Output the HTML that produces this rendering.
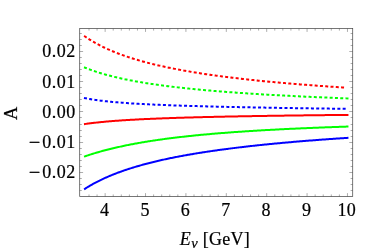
<!DOCTYPE html>
<html><head><meta charset="utf-8"><style>
html,body{margin:0;padding:0;background:#fff;}
body{width:382px;height:251px;position:relative;overflow:hidden;}
svg{font-family:"Liberation Serif",serif;font-size:18px;fill:#000;will-change:transform;}
text{stroke:#000;stroke-width:0.22px;}
</style></head><body>
<svg width="382" height="251" viewBox="0 0 382 251" style="position:absolute;left:0;top:0">
<path d="M84.96,188.79 L85.97,188.15 L86.98,187.52 L87.99,186.91 L89.00,186.30 L90.01,185.71 L91.02,185.13 L92.02,184.55 L93.03,183.99 L94.04,183.44 L95.05,182.90 L96.06,182.36 L97.07,181.84 L98.08,181.32 L99.09,180.82 L100.10,180.32 L101.11,179.83 L102.12,179.35 L103.13,178.87 L104.14,178.40 L105.15,177.94 L106.16,177.49 L107.17,177.05 L108.18,176.61 L109.19,176.18 L110.20,175.75 L111.21,175.33 L112.22,174.92 L113.23,174.51 L114.24,174.11 L115.25,173.72 L116.26,173.33 L117.27,172.94 L118.28,172.56 L119.28,172.19 L120.29,171.82 L121.30,171.46 L122.31,171.10 L123.32,170.75 L124.33,170.40 L125.34,170.05 L126.35,169.71 L127.36,169.38 L128.37,169.05 L129.38,168.72 L130.39,168.40 L131.40,168.08 L132.41,167.76 L133.42,167.45 L134.43,167.15 L135.44,166.84 L136.45,166.54 L137.46,166.25 L138.47,165.95 L139.48,165.67 L140.49,165.38 L141.50,165.10 L142.51,164.82 L143.52,164.54 L144.53,164.27 L145.53,164.00 L146.54,163.73 L147.55,163.47 L148.56,163.21 L149.57,162.95 L150.58,162.69 L151.59,162.44 L152.60,162.19 L153.61,161.94 L154.62,161.70 L155.63,161.46 L156.64,161.22 L157.65,160.98 L158.66,160.74 L159.67,160.51 L160.68,160.28 L161.69,160.06 L162.70,159.83 L163.71,159.61 L164.72,159.39 L165.73,159.17 L166.74,158.95 L167.75,158.74 L168.76,158.52 L169.77,158.31 L170.78,158.10 L171.79,157.90 L172.79,157.69 L173.80,157.49 L174.81,157.29 L175.82,157.09 L176.83,156.89 L177.84,156.70 L178.85,156.51 L179.86,156.31 L180.87,156.12 L181.88,155.94 L182.89,155.75 L183.90,155.56 L184.91,155.38 L185.92,155.20 L186.93,155.02 L187.94,154.84 L188.95,154.66 L189.96,154.49 L190.97,154.31 L191.98,154.14 L192.99,153.97 L194.00,153.80 L195.01,153.63 L196.02,153.46 L197.03,153.30 L198.04,153.13 L199.05,152.97 L200.05,152.81 L201.06,152.65 L202.07,152.49 L203.08,152.33 L204.09,152.18 L205.10,152.02 L206.11,151.87 L207.12,151.71 L208.13,151.56 L209.14,151.41 L210.15,151.26 L211.16,151.12 L212.17,150.97 L213.18,150.82 L214.19,150.68 L215.20,150.53 L216.21,150.39 L217.22,150.25 L218.23,150.11 L219.24,149.97 L220.25,149.83 L221.26,149.69 L222.27,149.56 L223.28,149.42 L224.29,149.29 L225.30,149.15 L226.31,149.02 L227.31,148.89 L228.32,148.76 L229.33,148.63 L230.34,148.50 L231.35,148.37 L232.36,148.25 L233.37,148.12 L234.38,147.99 L235.39,147.87 L236.40,147.75 L237.41,147.62 L238.42,147.50 L239.43,147.38 L240.44,147.26 L241.45,147.14 L242.46,147.02 L243.47,146.91 L244.48,146.79 L245.49,146.67 L246.50,146.56 L247.51,146.44 L248.52,146.33 L249.53,146.21 L250.54,146.10 L251.55,145.99 L252.56,145.88 L253.56,145.77 L254.57,145.66 L255.58,145.55 L256.59,145.44 L257.60,145.33 L258.61,145.23 L259.62,145.12 L260.63,145.02 L261.64,144.91 L262.65,144.81 L263.66,144.70 L264.67,144.60 L265.68,144.50 L266.69,144.40 L267.70,144.30 L268.71,144.19 L269.72,144.09 L270.73,144.00 L271.74,143.90 L272.75,143.80 L273.76,143.70 L274.77,143.60 L275.78,143.51 L276.79,143.41 L277.80,143.32 L278.81,143.22 L279.82,143.13 L280.82,143.03 L281.83,142.94 L282.84,142.85 L283.85,142.76 L284.86,142.67 L285.87,142.58 L286.88,142.48 L287.89,142.40 L288.90,142.31 L289.91,142.22 L290.92,142.13 L291.93,142.04 L292.94,141.95 L293.95,141.87 L294.96,141.78 L295.97,141.69 L296.98,141.61 L297.99,141.52 L299.00,141.44 L300.01,141.36 L301.02,141.27 L302.03,141.19 L303.04,141.11 L304.05,141.02 L305.06,140.94 L306.07,140.86 L307.07,140.78 L308.08,140.70 L309.09,140.62 L310.10,140.54 L311.11,140.46 L312.12,140.38 L313.13,140.30 L314.14,140.23 L315.15,140.15 L316.16,140.07 L317.17,139.99 L318.18,139.92 L319.19,139.84 L320.20,139.77 L321.21,139.69 L322.22,139.62 L323.23,139.54 L324.24,139.47 L325.25,139.39 L326.26,139.32 L327.27,139.25 L328.28,139.18 L329.29,139.10 L330.30,139.03 L331.31,138.96 L332.32,138.89 L333.33,138.82 L334.33,138.75 L335.34,138.68 L336.35,138.61 L337.36,138.54 L338.37,138.47 L339.38,138.40 L340.39,138.33 L341.40,138.27 L342.41,138.20 L343.42,138.13 L344.43,138.06 L345.44,138.00 L346.45,137.93 L347.46,137.86" fill="none" stroke="#0000ff" stroke-width="2" stroke-linejoin="round" stroke-linecap="square"/>
<path d="M84.96,156.34 L85.97,156.00 L86.98,155.66 L87.99,155.33 L89.00,155.00 L90.01,154.67 L91.02,154.35 L92.02,154.04 L93.03,153.72 L94.04,153.41 L95.05,153.11 L96.06,152.81 L97.07,152.51 L98.08,152.22 L99.09,151.93 L100.10,151.64 L101.11,151.36 L102.12,151.08 L103.13,150.81 L104.14,150.54 L105.15,150.27 L106.16,150.01 L107.17,149.75 L108.18,149.49 L109.19,149.23 L110.20,148.98 L111.21,148.73 L112.22,148.49 L113.23,148.25 L114.24,148.01 L115.25,147.77 L116.26,147.54 L117.27,147.31 L118.28,147.08 L119.28,146.85 L120.29,146.63 L121.30,146.41 L122.31,146.19 L123.32,145.98 L124.33,145.77 L125.34,145.56 L126.35,145.35 L127.36,145.14 L128.37,144.94 L129.38,144.74 L130.39,144.54 L131.40,144.35 L132.41,144.16 L133.42,143.97 L134.43,143.78 L135.44,143.59 L136.45,143.41 L137.46,143.22 L138.47,143.04 L139.48,142.86 L140.49,142.69 L141.50,142.51 L142.51,142.34 L143.52,142.17 L144.53,142.00 L145.53,141.84 L146.54,141.67 L147.55,141.51 L148.56,141.35 L149.57,141.19 L150.58,141.03 L151.59,140.87 L152.60,140.72 L153.61,140.57 L154.62,140.41 L155.63,140.26 L156.64,140.12 L157.65,139.97 L158.66,139.82 L159.67,139.68 L160.68,139.54 L161.69,139.40 L162.70,139.26 L163.71,139.12 L164.72,138.99 L165.73,138.85 L166.74,138.72 L167.75,138.58 L168.76,138.45 L169.77,138.32 L170.78,138.20 L171.79,138.07 L172.79,137.94 L173.80,137.82 L174.81,137.70 L175.82,137.57 L176.83,137.45 L177.84,137.33 L178.85,137.22 L179.86,137.10 L180.87,136.98 L181.88,136.87 L182.89,136.75 L183.90,136.64 L184.91,136.53 L185.92,136.42 L186.93,136.31 L187.94,136.20 L188.95,136.09 L189.96,135.98 L190.97,135.88 L191.98,135.77 L192.99,135.67 L194.00,135.57 L195.01,135.47 L196.02,135.36 L197.03,135.27 L198.04,135.17 L199.05,135.07 L200.05,134.97 L201.06,134.87 L202.07,134.78 L203.08,134.68 L204.09,134.59 L205.10,134.50 L206.11,134.40 L207.12,134.31 L208.13,134.22 L209.14,134.13 L210.15,134.04 L211.16,133.96 L212.17,133.87 L213.18,133.78 L214.19,133.70 L215.20,133.61 L216.21,133.53 L217.22,133.44 L218.23,133.36 L219.24,133.28 L220.25,133.20 L221.26,133.11 L222.27,133.03 L223.28,132.95 L224.29,132.88 L225.30,132.80 L226.31,132.72 L227.31,132.64 L228.32,132.57 L229.33,132.49 L230.34,132.41 L231.35,132.34 L232.36,132.27 L233.37,132.19 L234.38,132.12 L235.39,132.05 L236.40,131.98 L237.41,131.91 L238.42,131.83 L239.43,131.76 L240.44,131.70 L241.45,131.63 L242.46,131.56 L243.47,131.49 L244.48,131.42 L245.49,131.36 L246.50,131.29 L247.51,131.22 L248.52,131.16 L249.53,131.10 L250.54,131.03 L251.55,130.97 L252.56,130.90 L253.56,130.84 L254.57,130.78 L255.58,130.72 L256.59,130.66 L257.60,130.60 L258.61,130.53 L259.62,130.47 L260.63,130.42 L261.64,130.36 L262.65,130.30 L263.66,130.24 L264.67,130.18 L265.68,130.12 L266.69,130.07 L267.70,130.01 L268.71,129.95 L269.72,129.90 L270.73,129.84 L271.74,129.79 L272.75,129.73 L273.76,129.68 L274.77,129.63 L275.78,129.57 L276.79,129.52 L277.80,129.47 L278.81,129.42 L279.82,129.36 L280.82,129.31 L281.83,129.26 L282.84,129.21 L283.85,129.16 L284.86,129.11 L285.87,129.06 L286.88,129.01 L287.89,128.96 L288.90,128.91 L289.91,128.86 L290.92,128.82 L291.93,128.77 L292.94,128.72 L293.95,128.67 L294.96,128.63 L295.97,128.58 L296.98,128.53 L297.99,128.49 L299.00,128.44 L300.01,128.40 L301.02,128.35 L302.03,128.31 L303.04,128.26 L304.05,128.22 L305.06,128.18 L306.07,128.13 L307.07,128.09 L308.08,128.05 L309.09,128.00 L310.10,127.96 L311.11,127.92 L312.12,127.88 L313.13,127.84 L314.14,127.79 L315.15,127.75 L316.16,127.71 L317.17,127.67 L318.18,127.63 L319.19,127.59 L320.20,127.55 L321.21,127.51 L322.22,127.47 L323.23,127.43 L324.24,127.40 L325.25,127.36 L326.26,127.32 L327.27,127.28 L328.28,127.24 L329.29,127.21 L330.30,127.17 L331.31,127.13 L332.32,127.09 L333.33,127.06 L334.33,127.02 L335.34,126.98 L336.35,126.95 L337.36,126.91 L338.37,126.88 L339.38,126.84 L340.39,126.81 L341.40,126.77 L342.41,126.74 L343.42,126.70 L344.43,126.67 L345.44,126.63 L346.45,126.60 L347.46,126.57" fill="none" stroke="#00ff00" stroke-width="2" stroke-linejoin="round" stroke-linecap="square"/>
<path d="M84.96,124.01 L85.97,123.87 L86.98,123.73 L87.99,123.60 L89.00,123.47 L90.01,123.34 L91.02,123.21 L92.02,123.09 L93.03,122.97 L94.04,122.85 L95.05,122.73 L96.06,122.62 L97.07,122.51 L98.08,122.40 L99.09,122.30 L100.10,122.19 L101.11,122.09 L102.12,121.99 L103.13,121.89 L104.14,121.80 L105.15,121.71 L106.16,121.62 L107.17,121.53 L108.18,121.44 L109.19,121.35 L110.20,121.27 L111.21,121.18 L112.22,121.10 L113.23,121.02 L114.24,120.94 L115.25,120.87 L116.26,120.79 L117.27,120.72 L118.28,120.65 L119.28,120.57 L120.29,120.50 L121.30,120.43 L122.31,120.37 L123.32,120.30 L124.33,120.23 L125.34,120.17 L126.35,120.11 L127.36,120.04 L128.37,119.98 L129.38,119.92 L130.39,119.86 L131.40,119.80 L132.41,119.75 L133.42,119.69 L134.43,119.63 L135.44,119.58 L136.45,119.52 L137.46,119.47 L138.47,119.42 L139.48,119.37 L140.49,119.31 L141.50,119.26 L142.51,119.21 L143.52,119.16 L144.53,119.12 L145.53,119.07 L146.54,119.02 L147.55,118.98 L148.56,118.93 L149.57,118.88 L150.58,118.84 L151.59,118.80 L152.60,118.75 L153.61,118.71 L154.62,118.67 L155.63,118.63 L156.64,118.58 L157.65,118.54 L158.66,118.50 L159.67,118.46 L160.68,118.43 L161.69,118.39 L162.70,118.35 L163.71,118.31 L164.72,118.27 L165.73,118.24 L166.74,118.20 L167.75,118.16 L168.76,118.13 L169.77,118.09 L170.78,118.06 L171.79,118.02 L172.79,117.99 L173.80,117.96 L174.81,117.92 L175.82,117.89 L176.83,117.86 L177.84,117.83 L178.85,117.79 L179.86,117.76 L180.87,117.73 L181.88,117.70 L182.89,117.67 L183.90,117.64 L184.91,117.61 L185.92,117.58 L186.93,117.55 L187.94,117.52 L188.95,117.49 L189.96,117.46 L190.97,117.44 L191.98,117.41 L192.99,117.38 L194.00,117.35 L195.01,117.33 L196.02,117.30 L197.03,117.27 L198.04,117.25 L199.05,117.22 L200.05,117.19 L201.06,117.17 L202.07,117.14 L203.08,117.12 L204.09,117.09 L205.10,117.07 L206.11,117.04 L207.12,117.02 L208.13,117.00 L209.14,116.97 L210.15,116.95 L211.16,116.92 L212.17,116.90 L213.18,116.88 L214.19,116.86 L215.20,116.83 L216.21,116.81 L217.22,116.79 L218.23,116.77 L219.24,116.74 L220.25,116.72 L221.26,116.70 L222.27,116.68 L223.28,116.66 L224.29,116.64 L225.30,116.62 L226.31,116.60 L227.31,116.58 L228.32,116.56 L229.33,116.53 L230.34,116.51 L231.35,116.49 L232.36,116.48 L233.37,116.46 L234.38,116.44 L235.39,116.42 L236.40,116.40 L237.41,116.38 L238.42,116.36 L239.43,116.34 L240.44,116.32 L241.45,116.30 L242.46,116.29 L243.47,116.27 L244.48,116.25 L245.49,116.23 L246.50,116.21 L247.51,116.20 L248.52,116.18 L249.53,116.16 L250.54,116.14 L251.55,116.13 L252.56,116.11 L253.56,116.09 L254.57,116.08 L255.58,116.06 L256.59,116.04 L257.60,116.03 L258.61,116.01 L259.62,115.99 L260.63,115.98 L261.64,115.96 L262.65,115.95 L263.66,115.93 L264.67,115.91 L265.68,115.90 L266.69,115.88 L267.70,115.87 L268.71,115.85 L269.72,115.84 L270.73,115.82 L271.74,115.81 L272.75,115.79 L273.76,115.78 L274.77,115.76 L275.78,115.75 L276.79,115.73 L277.80,115.72 L278.81,115.70 L279.82,115.69 L280.82,115.68 L281.83,115.66 L282.84,115.65 L283.85,115.63 L284.86,115.62 L285.87,115.61 L286.88,115.59 L287.89,115.58 L288.90,115.56 L289.91,115.55 L290.92,115.54 L291.93,115.52 L292.94,115.51 L293.95,115.50 L294.96,115.49 L295.97,115.47 L296.98,115.46 L297.99,115.45 L299.00,115.43 L300.01,115.42 L301.02,115.41 L302.03,115.40 L303.04,115.38 L304.05,115.37 L305.06,115.36 L306.07,115.35 L307.07,115.33 L308.08,115.32 L309.09,115.31 L310.10,115.30 L311.11,115.29 L312.12,115.27 L313.13,115.26 L314.14,115.25 L315.15,115.24 L316.16,115.23 L317.17,115.22 L318.18,115.20 L319.19,115.19 L320.20,115.18 L321.21,115.17 L322.22,115.16 L323.23,115.15 L324.24,115.14 L325.25,115.12 L326.26,115.11 L327.27,115.10 L328.28,115.09 L329.29,115.08 L330.30,115.07 L331.31,115.06 L332.32,115.05 L333.33,115.04 L334.33,115.03 L335.34,115.02 L336.35,115.01 L337.36,115.00 L338.37,114.99 L339.38,114.98 L340.39,114.96 L341.40,114.95 L342.41,114.94 L343.42,114.93 L344.43,114.92 L345.44,114.91 L346.45,114.90 L347.46,114.89" fill="none" stroke="#ff0000" stroke-width="2" stroke-linejoin="round" stroke-linecap="square"/>
<path d="M84.96,98.16 L85.97,98.36 L86.98,98.55 L87.99,98.73 L89.00,98.90 L90.01,99.08 L91.02,99.24 L92.02,99.40 L93.03,99.56 L94.04,99.71 L95.05,99.86 L96.06,100.01 L97.07,100.15 L98.08,100.29 L99.09,100.42 L100.10,100.55 L101.11,100.68 L102.12,100.80 L103.13,100.92 L104.14,101.04 L105.15,101.16 L106.16,101.27 L107.17,101.38 L108.18,101.48 L109.19,101.59 L110.20,101.69 L111.21,101.79 L112.22,101.89 L113.23,101.98 L114.24,102.07 L115.25,102.17 L116.26,102.25 L117.27,102.34 L118.28,102.43 L119.28,102.51 L120.29,102.59 L121.30,102.67 L122.31,102.75 L123.32,102.83 L124.33,102.90 L125.34,102.98 L126.35,103.05 L127.36,103.12 L128.37,103.19 L129.38,103.26 L130.39,103.32 L131.40,103.39 L132.41,103.45 L133.42,103.52 L134.43,103.58 L135.44,103.64 L136.45,103.70 L137.46,103.76 L138.47,103.82 L139.48,103.88 L140.49,103.93 L141.50,103.99 L142.51,104.04 L143.52,104.10 L144.53,104.15 L145.53,104.20 L146.54,104.25 L147.55,104.30 L148.56,104.35 L149.57,104.40 L150.58,104.45 L151.59,104.50 L152.60,104.54 L153.61,104.59 L154.62,104.64 L155.63,104.68 L156.64,104.72 L157.65,104.77 L158.66,104.81 L159.67,104.85 L160.68,104.90 L161.69,104.94 L162.70,104.98 L163.71,105.02 L164.72,105.06 L165.73,105.10 L166.74,105.14 L167.75,105.17 L168.76,105.21 L169.77,105.25 L170.78,105.29 L171.79,105.32 L172.79,105.36 L173.80,105.40 L174.81,105.43 L175.82,105.47 L176.83,105.50 L177.84,105.53 L178.85,105.57 L179.86,105.60 L180.87,105.64 L181.88,105.67 L182.89,105.70 L183.90,105.73 L184.91,105.76 L185.92,105.80 L186.93,105.83 L187.94,105.86 L188.95,105.89 L189.96,105.92 L190.97,105.95 L191.98,105.98 L192.99,106.01 L194.00,106.04 L195.01,106.07 L196.02,106.10 L197.03,106.12 L198.04,106.15 L199.05,106.18 L200.05,106.21 L201.06,106.24 L202.07,106.26 L203.08,106.29 L204.09,106.32 L205.10,106.34 L206.11,106.37 L207.12,106.40 L208.13,106.42 L209.14,106.45 L210.15,106.47 L211.16,106.50 L212.17,106.52 L213.18,106.55 L214.19,106.57 L215.20,106.60 L216.21,106.62 L217.22,106.65 L218.23,106.67 L219.24,106.69 L220.25,106.72 L221.26,106.74 L222.27,106.76 L223.28,106.79 L224.29,106.81 L225.30,106.83 L226.31,106.86 L227.31,106.88 L228.32,106.90 L229.33,106.92 L230.34,106.95 L231.35,106.97 L232.36,106.99 L233.37,107.01 L234.38,107.03 L235.39,107.05 L236.40,107.08 L237.41,107.10 L238.42,107.12 L239.43,107.14 L240.44,107.16 L241.45,107.18 L242.46,107.20 L243.47,107.22 L244.48,107.24 L245.49,107.26 L246.50,107.28 L247.51,107.30 L248.52,107.32 L249.53,107.34 L250.54,107.36 L251.55,107.38 L252.56,107.40 L253.56,107.42 L254.57,107.44 L255.58,107.46 L256.59,107.48 L257.60,107.50 L258.61,107.51 L259.62,107.53 L260.63,107.55 L261.64,107.57 L262.65,107.59 L263.66,107.61 L264.67,107.62 L265.68,107.64 L266.69,107.66 L267.70,107.68 L268.71,107.70 L269.72,107.71 L270.73,107.73 L271.74,107.75 L272.75,107.77 L273.76,107.78 L274.77,107.80 L275.78,107.82 L276.79,107.84 L277.80,107.85 L278.81,107.87 L279.82,107.89 L280.82,107.90 L281.83,107.92 L282.84,107.94 L283.85,107.95 L284.86,107.97 L285.87,107.99 L286.88,108.00 L287.89,108.02 L288.90,108.03 L289.91,108.05 L290.92,108.07 L291.93,108.08 L292.94,108.10 L293.95,108.11 L294.96,108.13 L295.97,108.15 L296.98,108.16 L297.99,108.18 L299.00,108.19 L300.01,108.21 L301.02,108.22 L302.03,108.24 L303.04,108.25 L304.05,108.27 L305.06,108.28 L306.07,108.30 L307.07,108.31 L308.08,108.33 L309.09,108.34 L310.10,108.36 L311.11,108.37 L312.12,108.39 L313.13,108.40 L314.14,108.42 L315.15,108.43 L316.16,108.44 L317.17,108.46 L318.18,108.47 L319.19,108.49 L320.20,108.50 L321.21,108.52 L322.22,108.53 L323.23,108.54 L324.24,108.56 L325.25,108.57 L326.26,108.58 L327.27,108.60 L328.28,108.61 L329.29,108.63 L330.30,108.64 L331.31,108.65 L332.32,108.67 L333.33,108.68 L334.33,108.69 L335.34,108.71 L336.35,108.72 L337.36,108.73 L338.37,108.75 L339.38,108.76 L340.39,108.77 L341.40,108.79 L342.41,108.80 L343.42,108.81 L344.43,108.82 L345.44,108.84 L346.45,108.85 L347.46,108.86" fill="none" stroke="#0000ff" stroke-width="2" stroke-linejoin="round" stroke-linecap="square" stroke-dasharray="1.0 4.2878"/>
<path d="M84.96,67.64 L85.97,68.05 L86.98,68.45 L87.99,68.84 L89.00,69.23 L90.01,69.60 L91.02,69.97 L92.02,70.33 L93.03,70.69 L94.04,71.04 L95.05,71.38 L96.06,71.72 L97.07,72.04 L98.08,72.37 L99.09,72.69 L100.10,73.00 L101.11,73.30 L102.12,73.61 L103.13,73.90 L104.14,74.19 L105.15,74.48 L106.16,74.76 L107.17,75.04 L108.18,75.31 L109.19,75.58 L110.20,75.84 L111.21,76.10 L112.22,76.36 L113.23,76.61 L114.24,76.85 L115.25,77.10 L116.26,77.34 L117.27,77.57 L118.28,77.81 L119.28,78.04 L120.29,78.26 L121.30,78.48 L122.31,78.70 L123.32,78.92 L124.33,79.13 L125.34,79.34 L126.35,79.55 L127.36,79.76 L128.37,79.96 L129.38,80.16 L130.39,80.35 L131.40,80.55 L132.41,80.74 L133.42,80.93 L134.43,81.12 L135.44,81.30 L136.45,81.48 L137.46,81.66 L138.47,81.84 L139.48,82.01 L140.49,82.19 L141.50,82.36 L142.51,82.52 L143.52,82.69 L144.53,82.86 L145.53,83.02 L146.54,83.18 L147.55,83.34 L148.56,83.50 L149.57,83.65 L150.58,83.80 L151.59,83.96 L152.60,84.11 L153.61,84.25 L154.62,84.40 L155.63,84.55 L156.64,84.69 L157.65,84.83 L158.66,84.97 L159.67,85.11 L160.68,85.25 L161.69,85.39 L162.70,85.52 L163.71,85.65 L164.72,85.79 L165.73,85.92 L166.74,86.04 L167.75,86.17 L168.76,86.30 L169.77,86.42 L170.78,86.55 L171.79,86.67 L172.79,86.79 L173.80,86.91 L174.81,87.03 L175.82,87.15 L176.83,87.27 L177.84,87.38 L178.85,87.50 L179.86,87.61 L180.87,87.73 L181.88,87.84 L182.89,87.95 L183.90,88.06 L184.91,88.17 L185.92,88.27 L186.93,88.38 L187.94,88.49 L188.95,88.59 L189.96,88.69 L190.97,88.80 L191.98,88.90 L192.99,89.00 L194.00,89.10 L195.01,89.20 L196.02,89.30 L197.03,89.40 L198.04,89.49 L199.05,89.59 L200.05,89.69 L201.06,89.78 L202.07,89.87 L203.08,89.97 L204.09,90.06 L205.10,90.15 L206.11,90.24 L207.12,90.33 L208.13,90.42 L209.14,90.51 L210.15,90.60 L211.16,90.68 L212.17,90.77 L213.18,90.86 L214.19,90.94 L215.20,91.03 L216.21,91.11 L217.22,91.19 L218.23,91.28 L219.24,91.36 L220.25,91.44 L221.26,91.52 L222.27,91.60 L223.28,91.68 L224.29,91.76 L225.30,91.84 L226.31,91.91 L227.31,91.99 L228.32,92.07 L229.33,92.14 L230.34,92.22 L231.35,92.29 L232.36,92.37 L233.37,92.44 L234.38,92.52 L235.39,92.59 L236.40,92.66 L237.41,92.73 L238.42,92.80 L239.43,92.88 L240.44,92.95 L241.45,93.02 L242.46,93.08 L243.47,93.15 L244.48,93.22 L245.49,93.29 L246.50,93.36 L247.51,93.42 L248.52,93.49 L249.53,93.56 L250.54,93.62 L251.55,93.69 L252.56,93.75 L253.56,93.82 L254.57,93.88 L255.58,93.95 L256.59,94.01 L257.60,94.07 L258.61,94.13 L259.62,94.20 L260.63,94.26 L261.64,94.32 L262.65,94.38 L263.66,94.44 L264.67,94.50 L265.68,94.56 L266.69,94.62 L267.70,94.68 L268.71,94.74 L269.72,94.80 L270.73,94.85 L271.74,94.91 L272.75,94.97 L273.76,95.03 L274.77,95.08 L275.78,95.14 L276.79,95.19 L277.80,95.25 L278.81,95.31 L279.82,95.36 L280.82,95.41 L281.83,95.47 L282.84,95.52 L283.85,95.58 L284.86,95.63 L285.87,95.68 L286.88,95.74 L287.89,95.79 L288.90,95.84 L289.91,95.89 L290.92,95.94 L291.93,95.99 L292.94,96.05 L293.95,96.10 L294.96,96.15 L295.97,96.20 L296.98,96.25 L297.99,96.30 L299.00,96.34 L300.01,96.39 L301.02,96.44 L302.03,96.49 L303.04,96.54 L304.05,96.59 L305.06,96.63 L306.07,96.68 L307.07,96.73 L308.08,96.78 L309.09,96.82 L310.10,96.87 L311.11,96.91 L312.12,96.96 L313.13,97.01 L314.14,97.05 L315.15,97.10 L316.16,97.14 L317.17,97.19 L318.18,97.23 L319.19,97.27 L320.20,97.32 L321.21,97.36 L322.22,97.41 L323.23,97.45 L324.24,97.49 L325.25,97.54 L326.26,97.58 L327.27,97.62 L328.28,97.66 L329.29,97.70 L330.30,97.75 L331.31,97.79 L332.32,97.83 L333.33,97.87 L334.33,97.91 L335.34,97.95 L336.35,97.99 L337.36,98.03 L338.37,98.07 L339.38,98.11 L340.39,98.15 L341.40,98.19 L342.41,98.23 L343.42,98.27 L344.43,98.31 L345.44,98.35 L346.45,98.39 L347.46,98.43" fill="none" stroke="#00ff00" stroke-width="2" stroke-linejoin="round" stroke-linecap="square" stroke-dasharray="1.0 4.2858"/>
<path d="M84.96,36.47 L85.97,37.16 L86.98,37.84 L87.99,38.50 L89.00,39.15 L90.01,39.78 L91.02,40.40 L92.02,41.01 L93.03,41.61 L94.04,42.19 L95.05,42.77 L96.06,43.33 L97.07,43.89 L98.08,44.43 L99.09,44.96 L100.10,45.49 L101.11,46.00 L102.12,46.51 L103.13,47.00 L104.14,47.49 L105.15,47.97 L106.16,48.44 L107.17,48.91 L108.18,49.36 L109.19,49.81 L110.20,50.25 L111.21,50.68 L112.22,51.11 L113.23,51.53 L114.24,51.94 L115.25,52.35 L116.26,52.75 L117.27,53.15 L118.28,53.53 L119.28,53.92 L120.29,54.30 L121.30,54.67 L122.31,55.03 L123.32,55.39 L124.33,55.75 L125.34,56.10 L126.35,56.45 L127.36,56.79 L128.37,57.12 L129.38,57.46 L130.39,57.78 L131.40,58.11 L132.41,58.42 L133.42,58.74 L134.43,59.05 L135.44,59.36 L136.45,59.66 L137.46,59.96 L138.47,60.25 L139.48,60.54 L140.49,60.83 L141.50,61.11 L142.51,61.39 L143.52,61.67 L144.53,61.94 L145.53,62.21 L146.54,62.48 L147.55,62.75 L148.56,63.01 L149.57,63.26 L150.58,63.52 L151.59,63.77 L152.60,64.02 L153.61,64.27 L154.62,64.51 L155.63,64.75 L156.64,64.99 L157.65,65.22 L158.66,65.46 L159.67,65.69 L160.68,65.92 L161.69,66.14 L162.70,66.37 L163.71,66.59 L164.72,66.81 L165.73,67.02 L166.74,67.24 L167.75,67.45 L168.76,67.66 L169.77,67.87 L170.78,68.07 L171.79,68.27 L172.79,68.48 L173.80,68.68 L174.81,68.87 L175.82,69.07 L176.83,69.26 L177.84,69.46 L178.85,69.65 L179.86,69.83 L180.87,70.02 L181.88,70.21 L182.89,70.39 L183.90,70.57 L184.91,70.75 L185.92,70.93 L186.93,71.11 L187.94,71.28 L188.95,71.45 L189.96,71.63 L190.97,71.80 L191.98,71.97 L192.99,72.13 L194.00,72.30 L195.01,72.46 L196.02,72.63 L197.03,72.79 L198.04,72.95 L199.05,73.11 L200.05,73.27 L201.06,73.42 L202.07,73.58 L203.08,73.73 L204.09,73.89 L205.10,74.04 L206.11,74.19 L207.12,74.34 L208.13,74.48 L209.14,74.63 L210.15,74.78 L211.16,74.92 L212.17,75.06 L213.18,75.21 L214.19,75.35 L215.20,75.49 L216.21,75.62 L217.22,75.76 L218.23,75.90 L219.24,76.03 L220.25,76.17 L221.26,76.30 L222.27,76.44 L223.28,76.57 L224.29,76.70 L225.30,76.83 L226.31,76.96 L227.31,77.08 L228.32,77.21 L229.33,77.34 L230.34,77.46 L231.35,77.59 L232.36,77.71 L233.37,77.83 L234.38,77.95 L235.39,78.07 L236.40,78.19 L237.41,78.31 L238.42,78.43 L239.43,78.55 L240.44,78.66 L241.45,78.78 L242.46,78.90 L243.47,79.01 L244.48,79.12 L245.49,79.24 L246.50,79.35 L247.51,79.46 L248.52,79.57 L249.53,79.68 L250.54,79.79 L251.55,79.90 L252.56,80.00 L253.56,80.11 L254.57,80.22 L255.58,80.32 L256.59,80.43 L257.60,80.53 L258.61,80.63 L259.62,80.74 L260.63,80.84 L261.64,80.94 L262.65,81.04 L263.66,81.14 L264.67,81.24 L265.68,81.34 L266.69,81.44 L267.70,81.54 L268.71,81.63 L269.72,81.73 L270.73,81.83 L271.74,81.92 L272.75,82.02 L273.76,82.11 L274.77,82.20 L275.78,82.30 L276.79,82.39 L277.80,82.48 L278.81,82.57 L279.82,82.67 L280.82,82.76 L281.83,82.85 L282.84,82.93 L283.85,83.02 L284.86,83.11 L285.87,83.20 L286.88,83.29 L287.89,83.37 L288.90,83.46 L289.91,83.55 L290.92,83.63 L291.93,83.72 L292.94,83.80 L293.95,83.88 L294.96,83.97 L295.97,84.05 L296.98,84.13 L297.99,84.22 L299.00,84.30 L300.01,84.38 L301.02,84.46 L302.03,84.54 L303.04,84.62 L304.05,84.70 L305.06,84.78 L306.07,84.86 L307.07,84.93 L308.08,85.01 L309.09,85.09 L310.10,85.17 L311.11,85.24 L312.12,85.32 L313.13,85.39 L314.14,85.47 L315.15,85.55 L316.16,85.62 L317.17,85.69 L318.18,85.77 L319.19,85.84 L320.20,85.91 L321.21,85.99 L322.22,86.06 L323.23,86.13 L324.24,86.20 L325.25,86.27 L326.26,86.34 L327.27,86.41 L328.28,86.48 L329.29,86.55 L330.30,86.62 L331.31,86.69 L332.32,86.76 L333.33,86.83 L334.33,86.90 L335.34,86.97 L336.35,87.03 L337.36,87.10 L338.37,87.17 L339.38,87.23 L340.39,87.30 L341.40,87.36 L342.41,87.43 L343.42,87.49 L344.43,87.56 L345.44,87.62 L346.45,87.69" fill="none" stroke="#ff0000" stroke-width="2" stroke-linejoin="round" stroke-linecap="square" stroke-dasharray="1.0 4.2909"/>
<path d="M89.00,196.55 v-2.1 M89.00,28.5 v2.1 M97.07,196.55 v-2.1 M97.07,28.5 v2.1 M105.15,196.55 v-3.4 M105.15,28.5 v3.4 M113.23,196.55 v-2.1 M113.23,28.5 v2.1 M121.30,196.55 v-2.1 M121.30,28.5 v2.1 M129.38,196.55 v-2.1 M129.38,28.5 v2.1 M137.46,196.55 v-2.1 M137.46,28.5 v2.1 M145.53,196.55 v-3.4 M145.53,28.5 v3.4 M153.61,196.55 v-2.1 M153.61,28.5 v2.1 M161.69,196.55 v-2.1 M161.69,28.5 v2.1 M169.77,196.55 v-2.1 M169.77,28.5 v2.1 M177.84,196.55 v-2.1 M177.84,28.5 v2.1 M185.92,196.55 v-3.4 M185.92,28.5 v3.4 M194.00,196.55 v-2.1 M194.00,28.5 v2.1 M202.07,196.55 v-2.1 M202.07,28.5 v2.1 M210.15,196.55 v-2.1 M210.15,28.5 v2.1 M218.23,196.55 v-2.1 M218.23,28.5 v2.1 M226.31,196.55 v-3.4 M226.31,28.5 v3.4 M234.38,196.55 v-2.1 M234.38,28.5 v2.1 M242.46,196.55 v-2.1 M242.46,28.5 v2.1 M250.54,196.55 v-2.1 M250.54,28.5 v2.1 M258.61,196.55 v-2.1 M258.61,28.5 v2.1 M266.69,196.55 v-3.4 M266.69,28.5 v3.4 M274.77,196.55 v-2.1 M274.77,28.5 v2.1 M282.84,196.55 v-2.1 M282.84,28.5 v2.1 M290.92,196.55 v-2.1 M290.92,28.5 v2.1 M299.00,196.55 v-2.1 M299.00,28.5 v2.1 M307.07,196.55 v-3.4 M307.07,28.5 v3.4 M315.15,196.55 v-2.1 M315.15,28.5 v2.1 M323.23,196.55 v-2.1 M323.23,28.5 v2.1 M331.31,196.55 v-2.1 M331.31,28.5 v2.1 M339.38,196.55 v-2.1 M339.38,28.5 v2.1 M347.46,196.55 v-3.4 M347.46,28.5 v3.4 M79.7,190.50 h2.1 M352.7,190.50 h-2.1 M79.7,184.50 h2.1 M352.7,184.50 h-2.1 M79.7,178.50 h2.1 M352.7,178.50 h-2.1 M79.7,172.50 h3.4 M352.7,172.50 h-3.4 M79.7,166.50 h2.1 M352.7,166.50 h-2.1 M79.7,160.50 h2.1 M352.7,160.50 h-2.1 M79.7,154.50 h2.1 M352.7,154.50 h-2.1 M79.7,148.50 h2.1 M352.7,148.50 h-2.1 M79.7,142.50 h3.4 M352.7,142.50 h-3.4 M79.7,136.50 h2.1 M352.7,136.50 h-2.1 M79.7,130.50 h2.1 M352.7,130.50 h-2.1 M79.7,124.50 h2.1 M352.7,124.50 h-2.1 M79.7,117.50 h2.1 M352.7,117.50 h-2.1 M79.7,111.50 h3.4 M352.7,111.50 h-3.4 M79.7,105.50 h2.1 M352.7,105.50 h-2.1 M79.7,99.50 h2.1 M352.7,99.50 h-2.1 M79.7,93.50 h2.1 M352.7,93.50 h-2.1 M79.7,87.50 h2.1 M352.7,87.50 h-2.1 M79.7,81.50 h3.4 M352.7,81.50 h-3.4 M79.7,75.50 h2.1 M352.7,75.50 h-2.1 M79.7,69.50 h2.1 M352.7,69.50 h-2.1 M79.7,63.50 h2.1 M352.7,63.50 h-2.1 M79.7,57.50 h2.1 M352.7,57.50 h-2.1 M79.7,51.50 h3.4 M352.7,51.50 h-3.4 M79.7,45.50 h2.1 M352.7,45.50 h-2.1 M79.7,39.50 h2.1 M352.7,39.50 h-2.1 M79.7,33.50 h2.1 M352.7,33.50 h-2.1" fill="none" stroke="#5a5a5a" stroke-width="0.5"/>
<rect x="79.7" y="28.5" width="273.0" height="168.05" fill="none" stroke="#4a4a4a" stroke-width="0.75"/>
<text x="75.6" y="57.28" text-anchor="end" letter-spacing="0.45">0.02</text>
<text x="75.6" y="87.54" text-anchor="end" letter-spacing="0.45">0.01</text>
<text x="75.6" y="117.80" text-anchor="end" letter-spacing="0.45">0.00</text>
<text x="75.6" y="148.06" text-anchor="end" letter-spacing="0.45"><tspan font-size="20.5" dy="0.7" letter-spacing="2.0">−</tspan><tspan dy="-0.7">0.01</tspan></text>
<text x="75.6" y="178.32" text-anchor="end" letter-spacing="0.45"><tspan font-size="20.5" dy="0.7" letter-spacing="2.0">−</tspan><tspan dy="-0.7">0.02</tspan></text>
<text x="104.55" y="216.3" text-anchor="middle" letter-spacing="0">4</text>
<text x="144.94" y="216.3" text-anchor="middle" letter-spacing="0">5</text>
<text x="185.32" y="216.3" text-anchor="middle" letter-spacing="0">6</text>
<text x="225.71" y="216.3" text-anchor="middle" letter-spacing="0">7</text>
<text x="266.09" y="216.3" text-anchor="middle" letter-spacing="0">8</text>
<text x="306.47" y="216.3" text-anchor="middle" letter-spacing="0">9</text>
<text x="346.86" y="216.3" text-anchor="middle" letter-spacing="0.45">10</text>
<text x="179.7" y="244.7" letter-spacing="0.3"><tspan font-style="italic">E</tspan><tspan font-style="italic" font-size="14.5" dy="3.0" dx="0.3">ν</tspan><tspan dy="-3.0" dx="4.6">[GeV]</tspan></text>
<text transform="translate(16.5,113.3) rotate(-90) scale(1.03,1)" text-anchor="middle">A</text>
</svg>
</body></html>
